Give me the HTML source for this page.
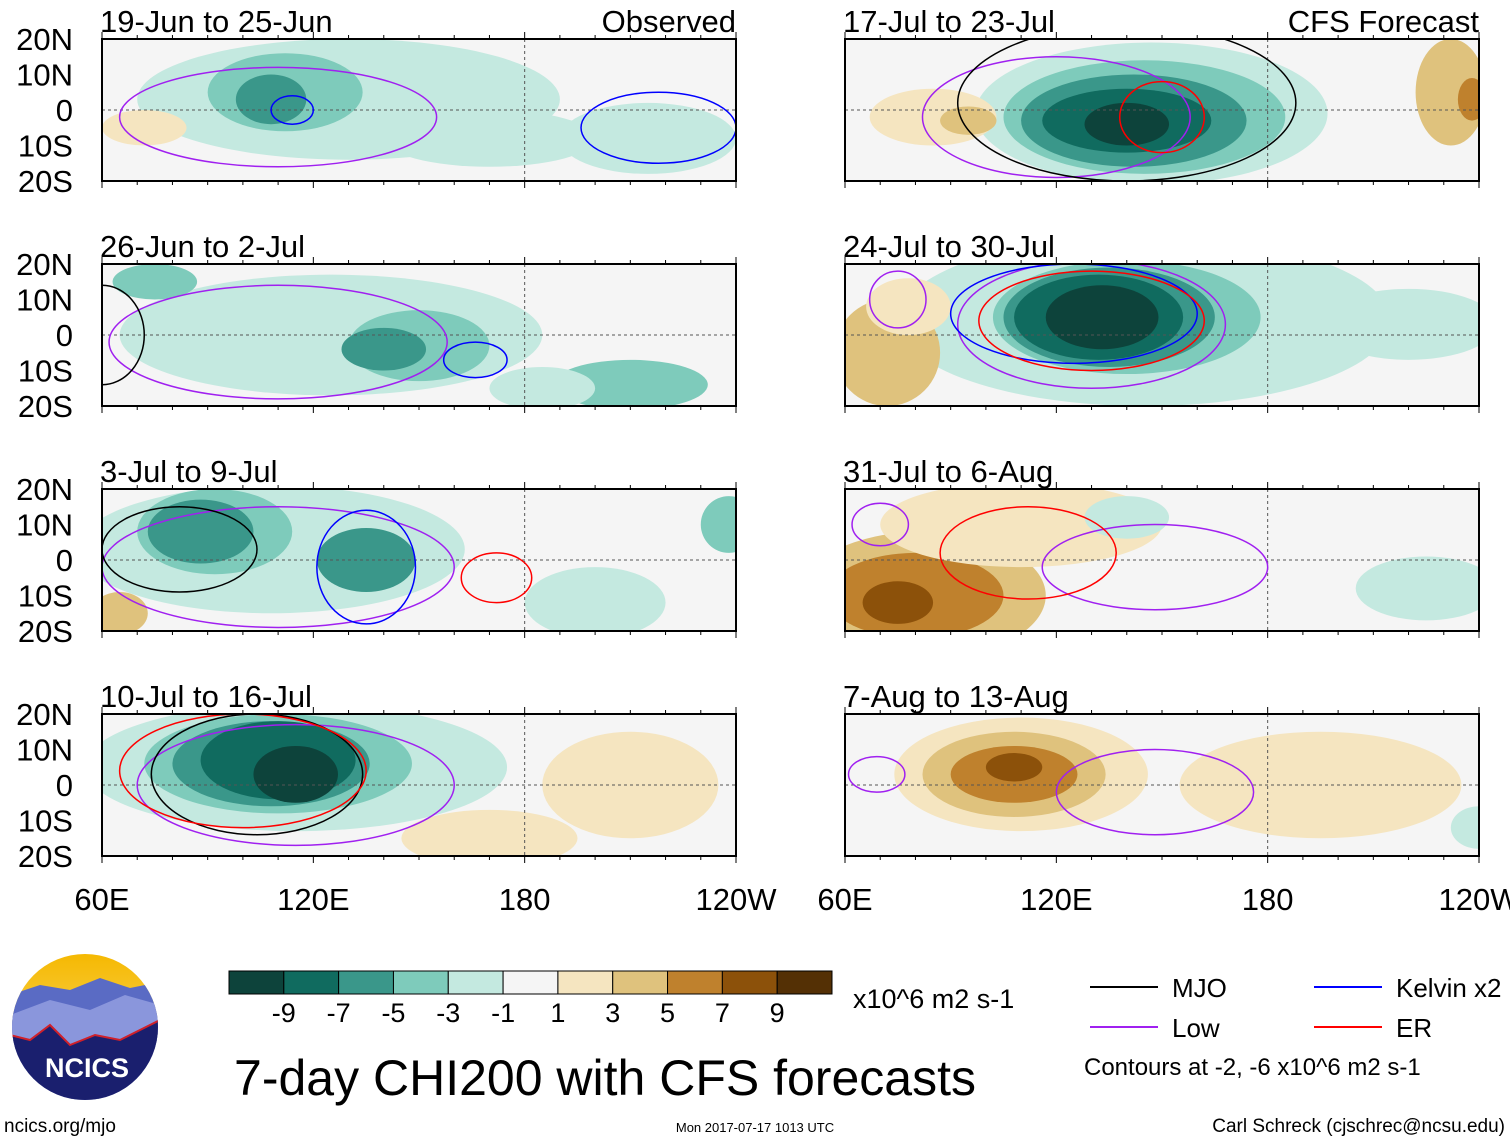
<!DOCTYPE html>
<html><head><meta charset="utf-8"><style>
body{margin:0;background:#fff;font-family:"Liberation Sans",sans-serif}
svg text{font-family:"Liberation Sans",sans-serif}
</style></head><body>
<svg id="s" width="1510" height="1142" xmlns="http://www.w3.org/2000/svg">
<defs>
<linearGradient id="sky" x1="0" y1="0" x2="0" y2="1"><stop offset="0" stop-color="#f5b800"/><stop offset="1" stop-color="#fbe38a"/></linearGradient>
<clipPath id="logoclip"><circle cx="85" cy="1027" r="73"/></clipPath>
</defs>
</svg>
<script>
const levels=['-9','-7','-5','-3','-1','1','3','5','7','9'];
const colors=['#0d433b','#106b5f','#3a978a','#7ecbbb','#c4e9e0','#f5f5f5','#f5e5c0','#dfc27d','#bf812d','#8c510a','#543005'];
const latTicks=['20N','10N','0','10S','20S'];
const latVals=[20,10,0,-10,-20];
const lonTicks=['60E','120E','180','120W'];
const lonVals=[60,120,180,240];
const titles=['19-Jun to 25-Jun','26-Jun to 2-Jul','3-Jul to 9-Jul','10-Jul to 16-Jul','17-Jul to 23-Jul','24-Jul to 30-Jul','31-Jul to 6-Aug','7-Aug to 13-Aug'];
// blobs: [lon, lat, rxDeg, ryDeg, colorIndex]
const blobs=[
 [[130,3,60,17,4],[170,-8,30,8,4],[112,5,22,11,3],[108,3,10,7,2],[72,-5,12,5,6],[215,-8,25,10,4]],
 [[125,0,60,17,4],[150,-3,20,10,3],[140,-4,12,6,2],[75,15,12,5,3],[210,-14,22,7,3],[185,-15,15,6,4]],
 [[108,3,55,18,4],[92,8,22,12,3],[88,8,15,9,2],[135,0,14,9,2],[65,-15,8,6,7],[238,10,8,8,3],[200,-12,20,10,4]],
 [[115,5,60,18,4],[110,6,38,14,3],[108,6,28,12,2],[110,7,22,11,1],[115,3,12,8,0],[210,0,25,15,6],[170,-15,25,8,6]],
 [[147,-1,50,20,4],[145,-2,40,16,3],[142,-3,32,13,2],[140,-3,24,9,1],[140,-4,12,6,0],[85,-2,18,8,6],[95,-3,8,4,7],[232,5,10,15,7],[238,3,4,6,8]],
 [[145,4,70,24,4],[140,5,38,16,3],[135,5,30,14,2],[132,5,24,12,1],[133,5,16,9,0],[72,-5,15,15,7],[78,8,12,8,6],[220,3,25,10,4]],
 [[82,-10,35,18,7],[80,-10,25,12,8],[75,-12,10,6,9],[110,10,40,12,6],[140,12,12,6,4],[225,-8,20,9,4]],
 [[110,3,36,16,6],[108,3,26,12,7],[108,3,18,8,8],[108,5,8,4,9],[195,0,40,15,6],[240,-12,8,6,4]]
];
// contour ellipses: [lon, lat, rxDeg, ryDeg, color]
const contours=[
 [[110,-2,45,14,'#a020f0'],[114,0,6,4,'#0000ff'],[218,-5,22,10,'#0000ff']],
 [[110,-2,48,16,'#a020f0'],[166,-7,9,5,'#0000ff'],[60,0,12,14,'#000000']],
 [[110,-2,50,17,'#a020f0'],[82,3,22,12,'#000000'],[135,-2,14,16,'#0000ff'],[172,-5,10,7,'#ff0000']],
 [[115,0,45,17,'#a020f0'],[104,3,30,17,'#000000'],[100,4,35,16,'#ff0000']],
 [[120,-2,38,17,'#a020f0'],[140,2,48,22,'#000000'],[150,-2,12,10,'#ff0000']],
 [[130,3,38,18,'#a020f0'],[125,6,35,14,'#0000ff'],[130,4,32,14,'#ff0000'],[75,10,8,8,'#a020f0']],
 [[148,-2,32,12,'#a020f0'],[112,2,25,13,'#ff0000'],[70,10,8,6,'#a020f0']],
 [[148,-2,28,12,'#a020f0'],[69,3,8,5,'#a020f0']]
];
const S=document.getElementById('s');const NS='http://www.w3.org/2000/svg';
function el(t,a,p){const e=document.createElementNS(NS,t);for(const k in a)e.setAttribute(k,a[k]);(p||S).appendChild(e);return e;}
const W=634,H=142,px=[102,845],py=[39,264,489,714];
for(let i=0;i<8;i++){
 const x0=px[i<4?0:1],y0=py[i%4];
 const xs=l=>x0+(l-60)/180*W, ys=a=>y0+(20-a)/40*H;
 const g=el('g',{});
 
 
 const cp=el('clipPath',{id:'c'+i},S.querySelector('defs'));el('rect',{x:x0,y:y0,width:W,height:H},cp);
 const inner=el('g',{'clip-path':'url(#c'+i+')'},g);
 el('rect',{x:x0,y:y0,width:W,height:H,fill:colors[5]},inner);
 blobs[i].forEach(b=>{const e=el('ellipse',{cx:xs(b[0]),cy:ys(b[1]),rx:b[2]/180*W,ry:b[3]/40*H,fill:colors[b[4]]},inner);
  });
 el('line',{x1:x0,x2:x0+W,y1:ys(0),y2:ys(0),stroke:'#555','stroke-dasharray':'3,3'},inner);
 el('line',{x1:xs(180),x2:xs(180),y1:y0,y2:y0+H,stroke:'#555','stroke-dasharray':'3,3'},inner);
 contours[i].forEach(c=>{const e=el('ellipse',{cx:xs(c[0]),cy:ys(c[1]),rx:c[2]/180*W,ry:c[3]/40*H,fill:'none',stroke:c[4],'stroke-width':1.5},inner);
  });
 el('rect',{x:x0,y:y0,width:W,height:H,fill:'none',stroke:'#000','stroke-width':2},g);
 for(let l=60;l<=240;l+=10){const x=xs(l),len=l%60?4:7;el('line',{x1:x,x2:x,y1:y0,y2:y0-len,stroke:'#000'},g);el('line',{x1:x,x2:x,y1:y0+H,y2:y0+H+len,stroke:'#000'},g);}
 const t=el('text',{x:x0-2,y:y0-7,'font-size':31},g);t.textContent=titles[i];
 
 if(i==0||i==4){const r=el('text',{x:x0+W,y:y0-7,'font-size':31,'text-anchor':'end'},g);r.textContent=i==0?'Observed':'CFS Forecast';}
 if(i<4) latVals.forEach((v,k)=>{const tt=el('text',{x:73,y:ys(v)+11,'font-size':31,'text-anchor':'end'});tt.textContent=latTicks[k];
  });
 if(i%4==3) lonVals.forEach((v,k)=>{const tt=el('text',{x:xs(v),y:910,'font-size':31,'text-anchor':'middle'});tt.textContent=lonTicks[k];
  });
}
// colorbar
const cbx=229,cbw=603/11;
colors.forEach((c,k)=>{const r=el('rect',{x:cbx+k*cbw,y:971,width:cbw,height:23,fill:c,stroke:'#000'});
 });
levels.forEach((l,k)=>{const t=el('text',{x:cbx+(k+1)*cbw,y:1022,'font-size':27,'text-anchor':'middle'});t.textContent=l;
 });
function txt(s,x,y,fs,anchor,name){const t=el('text',{x:x,y:y,'font-size':fs,'text-anchor':anchor||'start'});t.textContent=s;return t;}
txt('x10^6 m2 s-1',853,1008,27,'start','colorbar-units');
txt('7-day CHI200 with CFS forecasts',605,1095,50,'middle','chart-title');
const leg=[['MJO','#000',1090,987],['Low','#a020f0',1090,1027],['Kelvin x2','#0000ff',1314,987],['ER','#ff0000',1314,1027]];
leg.forEach(l=>{el('line',{x1:l[2],x2:l[2]+68,y1:l[3],y2:l[3],stroke:l[1],'stroke-width':2});txt(l[0],l[2]+82,l[3]+10,26,'start','legend-entry');});
txt('Contours at -2, -6 x10^6 m2 s-1',1084,1075,24,'start','contour-note');
txt('ncics.org/mjo',4,1132,19,'start','site-link');
txt('Mon 2017-07-17 1013 UTC',755,1132,13,'middle','timestamp');
txt('Carl Schreck (cjschrec@ncsu.edu)',1505,1132,19,'end','author');
// logo
const lg=el('g',{'clip-path':'url(#logoclip)'});
el('rect',{x:10,y:952,width:150,height:150,fill:'url(#sky)'},lg);
el('path',{d:'M10 995 L40 985 L70 990 L100 978 L130 988 L160 982 L160 1102 L10 1102Z',fill:'#5a6bc4'},lg);
el('path',{d:'M10 1015 L50 1000 L90 1010 L125 995 L160 1005 L160 1102 L10 1102Z',fill:'#8a96dc'},lg);
el('path',{d:'M10 1035 L30 1040 L50 1025 L70 1045 L95 1035 L120 1040 L160 1020 L160 1102 L10 1102Z',fill:'#1a1f6e'},lg);
el('path',{d:'M10 1035 L30 1040 L50 1025 L70 1045 L95 1035 L120 1040 L160 1020',fill:'none',stroke:'#d0202a','stroke-width':2},lg);
const lt=txt('NCICS',87,1077,27,'middle','logo-text');lt.setAttribute('fill','#fff');lt.setAttribute('font-weight','bold');
</script>
</body></html>
